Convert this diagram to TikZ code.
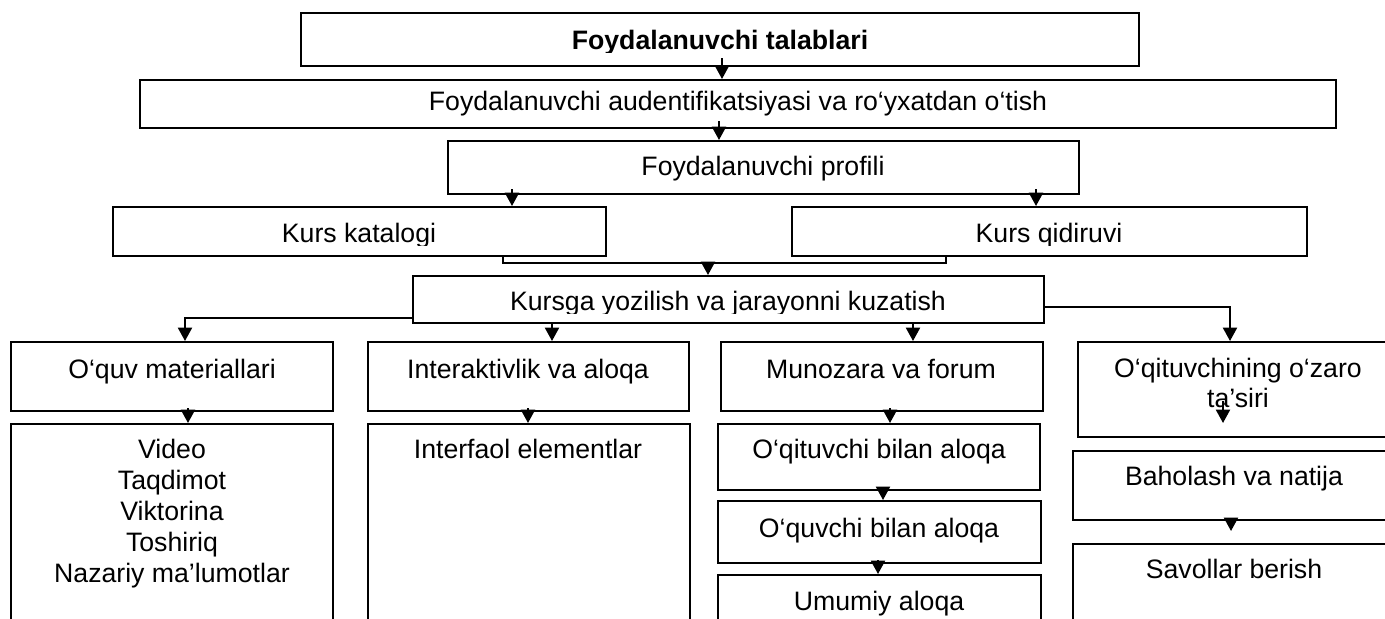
\documentclass[tikz,border=0pt]{standalone}
\usepackage{fontspec}
\setmainfont{Liberation Sans}
\usetikzlibrary{arrows.meta,fit}
\begin{document}
\begin{tikzpicture}[x=0.75pt,y=-0.75pt,
  box/.style={draw, line width=1.5pt, inner sep=0pt},
  txt/.style={font=\fontsize{20}{23.25}\selectfont, inner sep=0pt, anchor=base},
  btxt/.style={font=\fontsize{20}{23.25}\selectfont\bfseries, inner sep=0pt, anchor=base},
  arr/.style={line width=1.5pt, -{Triangle[width=10.5pt,length=10pt]}},
  ln/.style={line width=1.5pt}]
\useasboundingbox (0,0) rectangle (1385,618);
\fill[white] (0,0) rectangle (1385,618);
\clip (0,0) rectangle (1385,618);

% boxes
\node[box, fit={(301,13) (1139,66)}] (t1) {};
\node[box, fit={(140,80) (1336,128)}] (t2) {};
\node[box, fit={(448,141) (1079,194)}] (t3) {};
\node[box, fit={(113,207) (606,256)}] (cat) {};
\node[box, fit={(792,207) (1307,256)}] (qid) {};
\node[box, fit={(413,276) (1044,323)}] (kur) {};
\node[box, fit={(11,342) (333,411)}] (c1h) {};
\node[box, fit={(11,424) (333,640)}] (c1b) {};
\node[box, fit={(368,342) (689,411)}] (c2h) {};
\node[box, fit={(368,424) (690,640)}] (c2b) {};
\node[box, fit={(721,342) (1043,411)}] (c3h) {};
\node[box, fit={(718,424) (1040,490)}] (c3a) {};
\node[box, fit={(718,501) (1041,563)}] (c3b) {};
\node[box, fit={(718,575) (1041,640)}] (c3c) {};
\node[box, fit={(1078,342) (1398,437)}] (c4h) {};
\node[box, fit={(1073,451) (1396,520)}] (c4a) {};
\node[box, fit={(1073,544) (1396,640)}] (c4b) {};

% clipped texts (upper boxes)
\begin{scope}
  \clip (301,13) rectangle (1139,52);
  \node[btxt] (t1t) at (720,49) {Foydalanuvchi talablari};
\end{scope}
\begin{scope}
  \clip (140,80) rectangle (1336,115);
  \node[txt] (t2t) at (738,110) {Foydalanuvchi audentifikatsiyasi va ro‘yxatdan o‘tish};
\end{scope}
\begin{scope}
  \clip (448,141) rectangle (1079,180);
  \node[txt] (t3t) at (763,175) {Foydalanuvchi profili};
\end{scope}
\begin{scope}
  \clip (113,207) rectangle (606,245);
  \node[txt] (catt) at (359,242) {Kurs katalogi};
\end{scope}
\begin{scope}
  \clip (792,207) rectangle (1307,245);
  \node[txt] (qidt) at (1049,242) {Kurs qidiruvi};
\end{scope}
\begin{scope}
  \clip (413,276) rectangle (1044,313);
  \node[txt] (kurt) at (728,310) {Kursga yozilish va jarayonni kuzatish};
\end{scope}

% lower texts
\node[txt] (c1ht) at (172,378) {O‘quv materiallari};
\node[txt] (c1bt) at (172,458) {\begin{tabular}[t]{@{}c@{}}Video\\Taqdimot\\Viktorina\\Toshiriq\\Nazariy ma’lumotlar\end{tabular}};
\node[txt] (c2ht) at (528,378) {Interaktivlik va aloqa};
\node[txt] (c2bt) at (528,458) {Interfaol elementlar};
\node[txt] (c3ht) at (881,378) {Munozara va forum};
\node[txt] (c3at) at (879,458) {O‘qituvchi bilan aloqa};
\node[txt] (c3bt) at (879,537) {O‘quvchi bilan aloqa};
\node[txt] (c3ct) at (879,610) {Umumiy aloqa};
\node[txt, font=\fontsize{20}{22.5}\selectfont] (c4ht) at (1238,377) {\begin{tabular}[t]{@{}c@{}}O‘qituvchining o‘zaro\\ta’siri\end{tabular}};
\node[txt] (c4at) at (1234,485) {Baholash va natija};
\node[txt] (c4bt) at (1234,578) {Savollar berish};

% x positions of connectors
\coordinate (a1) at (722,0);
\coordinate (a2) at (719,0);
\coordinate (a3) at (512,0);
\coordinate (a4) at (1036,0);
\coordinate (bl) at (503,0);
\coordinate (br) at (946,0);
\coordinate (brk) at (0,263);
\coordinate (a5) at (708,263);
\coordinate (lb) at (185,318);
\coordinate (rb) at (1230,307);
\coordinate (a7) at (552,0);
\coordinate (a8) at (913,0);
\coordinate (a9) at (188,0);
\coordinate (a10) at (528,0);
\coordinate (a11) at (890,0);
\coordinate (a12) at (883,0);
\coordinate (a13) at (878,0);
\coordinate (a14) at (1223,0);
\coordinate (a15) at (1231,0);

% connectors
\draw[arr] ([yshift=6.75pt]t1.south -| a1) -- (t2.north -| a1);
\draw[arr] ([yshift=6pt]t2.south -| a2) -- (t3.north -| a2);
\draw[arr] ([yshift=4.5pt]t3.south -| a3) -- (cat.north -| a3);
\draw[arr] ([yshift=4.5pt]t3.south -| a4) -- (qid.north -| a4);
\draw[ln] (cat.south -| bl) -- (bl |- brk) -- (br |- brk) -- (qid.south -| br);
\draw[arr] (a5) -- (kur.north -| a5);
\draw[arr] (kur.west |- lb) -- (lb) -- (c1h.north -| lb);
\draw[arr] (kur.south -| a7) -- (c2h.north -| a7);
\draw[arr] (kur.south -| a8) -- (c3h.north -| a8);
\draw[arr] (kur.east |- rb) -- (rb) -- (c4h.north -| rb);
\draw[arr] ([yshift=3pt]c1h.south -| a9) -- (c1b.north -| a9);
\draw[arr] ([yshift=3pt]c2h.south -| a10) -- (c2b.north -| a10);
\draw[arr] ([yshift=3pt]c3h.south -| a11) -- (c3a.north -| a11);
\draw[arr] ([yshift=3pt]c3a.south -| a12) -- (c3b.north -| a12);
\draw[arr] ([yshift=3pt]c3b.south -| a13) -- (c3c.north -| a13);
\draw[arr] ([yshift=27.75pt]c4h.south -| a14) -- ([yshift=11.25pt]c4h.south -| a14);
\draw[arr] ([yshift=2.25pt]c4a.south -| a15) -- ([yshift=9pt]c4b.north -| a15);
\end{tikzpicture}
\end{document}
